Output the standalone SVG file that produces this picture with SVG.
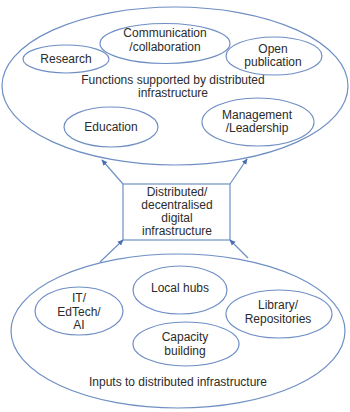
<svg xmlns="http://www.w3.org/2000/svg" width="350" height="412" viewBox="0 0 350 412">
<style>
.s{fill:#fff;stroke:#6f8fc4;stroke-width:1.2}
.t{font-family:"Liberation Sans",Arial,sans-serif;font-size:12px;fill:#2b2b2b;text-anchor:middle}
.c{stroke:#6f8fc4;stroke-width:1.2;fill:none}
</style>
<defs>
<marker id="a" viewBox="0 0 8 8" refX="7" refY="4" markerWidth="6" markerHeight="6" orient="auto" markerUnits="userSpaceOnUse">
<path d="M0,0.5 L8,4 L0,7.5 z" fill="#4a6fb0"/>
</marker>
</defs>
<rect width="350" height="412" fill="#fff"/>
<g id="functions">
<ellipse class="s" cx="175" cy="86" rx="173" ry="79"/>
<text class="t" x="173" y="84">Functions supported by distributed</text>
<text class="t" x="173" y="97">infrastructure</text>
</g>
<g id="research">
<ellipse class="s" cx="66" cy="59" rx="43" ry="14"/>
<text class="t" x="66" y="63">Research</text>
</g>
<g id="communication">
<ellipse class="s" cx="165" cy="43.5" rx="65" ry="20"/>
<text class="t" x="165" y="37">Communication</text>
<text class="t" x="165" y="51">/collaboration</text>
</g>
<g id="open">
<ellipse class="s" cx="274" cy="56" rx="48" ry="19"/>
<text class="t" x="273" y="53">Open</text>
<text class="t" x="273" y="66">publication</text>
</g>
<g id="education">
<ellipse class="s" cx="111" cy="127" rx="47" ry="20"/>
<text class="t" x="111" y="131">Education</text>
</g>
<g id="management">
<ellipse class="s" cx="258" cy="122" rx="56" ry="24"/>
<text class="t" x="257" y="119">Management</text>
<text class="t" x="257" y="132">/Leadership</text>
</g>
<g id="infra">
<rect class="s" x="123" y="184" width="107" height="56"/>
<text class="t" x="177" y="196">Distributed/</text>
<text class="t" x="177" y="209">decentralised</text>
<text class="t" x="177" y="222">digital</text>
<text class="t" x="177" y="235">infrastructure</text>
</g>
<g id="inputs">
<ellipse class="s" cx="178" cy="331" rx="167" ry="77"/>
<text class="t" x="178" y="386">Inputs to distributed infrastructure</text>
</g>
<g id="it">
<ellipse class="s" cx="79" cy="311" rx="44" ry="24"/>
<text class="t" x="79" y="302">IT/</text>
<text class="t" x="79" y="316">EdTech/</text>
<text class="t" x="79" y="329">AI</text>
</g>
<g id="hubs">
<ellipse class="s" cx="180" cy="290" rx="47" ry="24"/>
<text class="t" x="180" y="292">Local hubs</text>
</g>
<g id="library">
<ellipse class="s" cx="279" cy="314" rx="53" ry="24"/>
<text class="t" x="278" y="309">Library/</text>
<text class="t" x="278" y="323">Repositories</text>
</g>
<g id="capacity">
<ellipse class="s" cx="186" cy="344" rx="53" ry="22"/>
<text class="t" x="185" y="341">Capacity</text>
<text class="t" x="185" y="355">building</text>
</g>
<g id="connectors">
<line class="c" x1="123" y1="184" x2="102" y2="160" marker-end="url(#a)"/>
<line class="c" x1="230" y1="184" x2="247" y2="159" marker-end="url(#a)"/>
<line class="c" x1="100" y1="262" x2="123" y2="240" marker-end="url(#a)"/>
<line class="c" x1="248" y1="258" x2="230" y2="240" marker-end="url(#a)"/>
</g>
</svg>
